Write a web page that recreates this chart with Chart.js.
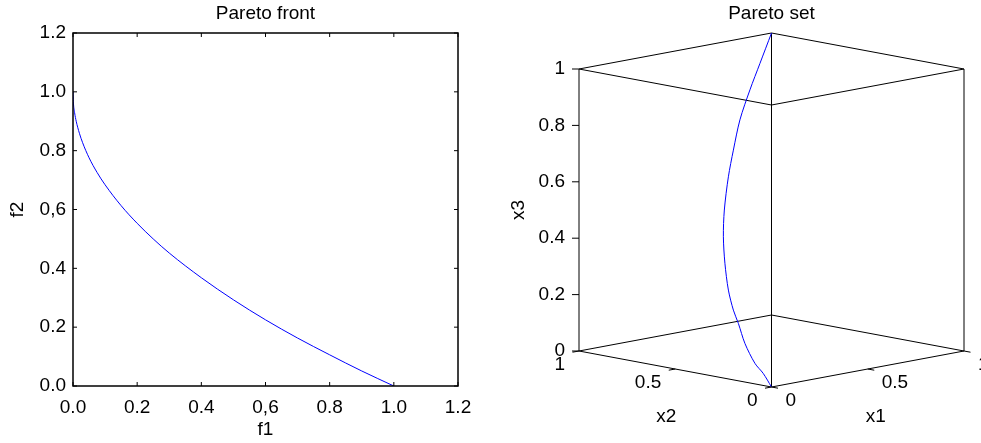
<!DOCTYPE html>
<html>
<head>
<meta charset="utf-8">
<script src="https://cdn.jsdelivr.net/npm/chart.js@4.4.1/dist/chart.umd.min.js"></script>
<style>
  html, body { margin: 0; padding: 0; background: #fff; }
  #wrap { position: relative; width: 981px; height: 443px; overflow: hidden; }
  canvas { position: absolute; top: 0; }
  #front { left: 0; }
  #set { left: 490px; }
</style>
</head>
<body>
<div id="wrap">
  <canvas id="front" width="490" height="443"></canvas>
  <canvas id="set" width="491" height="443"></canvas>
</div>
<script>
// ---- Pareto front (left panel) ----
const f1 = [0, 0.001, 0.005, 0.01, 0.02, 0.03, 0.05, 0.075, 0.1, 0.15, 0.2, 0.25, 0.3, 0.4, 0.5, 0.6, 0.7, 0.8, 0.9, 1.0];
const f2 = [1.0, 0.968, 0.929, 0.9, 0.859, 0.827, 0.776, 0.726, 0.684, 0.613, 0.553, 0.5, 0.452, 0.368, 0.293, 0.225, 0.163, 0.106, 0.051, 0.0];
const frontTicks = [0, 0.2, 0.4, 0.6, 0.8, 1.0, 1.2];
const frontTickLabels = ['0.0', '0.2', '0.4', '0,6', '0.8', '1.0', '1.2'];

// ---- Pareto set (right panel) ----
const x1 = [1.0, 0.908, 0.828, 0.738, 0.649, 0.571, 0.475, 0.399, 0.325, 0.251, 0.197, 0.162, 0.109, 0.058, 0.034, 0];
const x2 = [1.0, 0.968, 0.94, 0.902, 0.847, 0.795, 0.72, 0.649, 0.567, 0.475, 0.395, 0.334, 0.247, 0.144, 0.077, 0];
const x3 = [1.0, 0.908, 0.828, 0.738, 0.649, 0.571, 0.475, 0.399, 0.325, 0.251, 0.197, 0.162, 0.109, 0.058, 0.034, 0];
const setTicks = [0, 0.5, 1];
const setTickLabels = ['0', '0.5', '1'];
const x3Ticks = [0, 0.2, 0.4, 0.6, 0.8, 1];
const x3TickLabels = ['0', '0.2', '0.4', '0.6', '0.8', '1'];

// unit cube corners joined by the 12 edges
const cubeEdges = [
  [[0, 0, 0], [1, 0, 0]], [[0, 0, 0], [0, 1, 0]], [[1, 0, 0], [1, 1, 0]], [[0, 1, 0], [1, 1, 0]],
  [[0, 0, 1], [1, 0, 1]], [[0, 0, 1], [0, 1, 1]], [[1, 0, 1], [1, 1, 1]], [[0, 1, 1], [1, 1, 1]],
  [[0, 0, 0], [0, 0, 1]], [[1, 0, 0], [1, 0, 1]], [[0, 1, 0], [0, 1, 1]], [[1, 1, 0], [1, 1, 1]]
];

const FONT_FAMILY = "'Liberation Sans', Arial, sans-serif";
const FONT = { family: FONT_FAMILY, size: 19 };

// view from az=45, low elevation: depth lifts points a little
const DEPTH = 36 / 282;
const project = (a, b, c) => ({ x: a - b, y: c + DEPTH * (a + b) });

// frame + inward ticks on all four sides
const framePlugin = {
  id: 'frame',
  afterDatasetsDraw(chart) {
    const { ctx, chartArea: a, scales: { x, y } } = chart;
    ctx.save();
    ctx.strokeStyle = '#000';
    ctx.lineWidth = 1.5;
    ctx.strokeRect(a.left, a.top, a.width, a.height);
    ctx.lineWidth = 1;
    ctx.beginPath();
    frontTicks.forEach(v => {
      const px = x.getPixelForValue(v), py = y.getPixelForValue(v);
      ctx.moveTo(px, a.bottom); ctx.lineTo(px, a.bottom - 4);
      ctx.moveTo(px, a.top); ctx.lineTo(px, a.top + 4);
      ctx.moveTo(a.left, py); ctx.lineTo(a.left + 4, py);
      ctx.moveTo(a.right, py); ctx.lineTo(a.right - 4, py);
    });
    ctx.stroke();
    ctx.restore();
  }
};

new Chart(document.getElementById('front'), {
  type: 'scatter',
  data: {
    datasets: [{
      data: f1.map((v, i) => ({ x: v, y: f2[i] })),
      showLine: true,
      borderColor: '#0000ff',
      borderWidth: 1,
      pointRadius: 0,
      cubicInterpolationMode: 'monotone'
    }]
  },
  options: {
    responsive: false,
    animation: false,
    devicePixelRatio: 1,
    layout: { padding: { left: 0, right: 32, top: 0, bottom: 0 } },
    plugins: {
      legend: { display: false },
      tooltip: { enabled: false },
      title: { display: true, fullSize: false, text: 'Pareto front', color: '#000', font: { ...FONT, weight: 'normal' }, padding: { top: 2, bottom: 8.2 } }
    },
    scales: {
      x: {
        type: 'linear', min: 0, max: 1.2,
        afterBuildTicks: s => { s.ticks = frontTicks.map(v => ({ value: v })); },
        ticks: { callback: (v, i) => frontTickLabels[i], autoSkip: false, maxRotation: 0, padding: 10, color: '#000', font: FONT },
        grid: { display: false, drawTicks: false },
        border: { display: false },
        title: { display: true, text: 'f1', color: '#000', font: FONT, padding: { top: 0, bottom: 1.5 } },
        afterFit: s => { s.height = 57; s.paddingLeft = 0; s.paddingRight = 0; }
      },
      y: {
        type: 'linear', min: 0, max: 1.2,
        afterBuildTicks: s => { s.ticks = frontTicks.map(v => ({ value: v })); },
        ticks: { callback: (v, i) => frontTickLabels[i], autoSkip: false, padding: 7, color: '#000', font: FONT },
        grid: { display: false, drawTicks: false },
        border: { display: false },
        title: { display: true, text: 'f2', color: '#000', font: FONT, padding: { top: 6.5, bottom: 0 } },
        afterFit: s => { s.width = 73; s.paddingTop = 0; s.paddingBottom = 0; }
      }
    }
  },
  plugins: [framePlugin]
});

// ticks and labels along the cube's axes
const boxAxesPlugin = {
  id: 'boxAxes',
  afterDatasetsDraw(chart) {
    const { ctx, scales: { x, y } } = chart;
    const pix = (a, b, c) => {
      const p = project(a, b, c);
      return [x.getPixelForValue(p.x), y.getPixelForValue(p.y)];
    };
    ctx.save();
    ctx.strokeStyle = '#000';
    ctx.fillStyle = '#000';
    ctx.lineWidth = 1;
    ctx.font = FONT.size + 'px ' + FONT_FAMILY;

    ctx.beginPath();
    x3Ticks.forEach(v => {
      const [sx, sy] = pix(0, 1, v);
      ctx.moveTo(sx, sy); ctx.lineTo(sx - 7, sy);
    });
    setTicks.forEach(v => {
      let [sx, sy] = pix(0, v, 0);
      ctx.moveTo(sx, sy); ctx.lineTo(sx - 6.5, sy + 1.2);
      [sx, sy] = pix(v, 0, 0);
      ctx.moveTo(sx, sy); ctx.lineTo(sx + 6.5, sy + 1.2);
    });
    ctx.stroke();

    ctx.textBaseline = 'middle';
    ctx.textAlign = 'right';
    x3Ticks.forEach((v, i) => {
      const [sx, sy] = pix(0, 1, v);
      ctx.fillText(x3TickLabels[i], sx - 14, sy);
    });
    setTicks.forEach((v, i) => {
      const [sx, sy] = pix(0, v, 0);
      ctx.fillText(setTickLabels[i], sx - 14, sy + 14);
    });
    ctx.textAlign = 'left';
    setTicks.forEach((v, i) => {
      const [sx, sy] = pix(v, 0, 0);
      ctx.fillText(setTickLabels[i], sx + 14, sy + 14);
    });

    // axis titles
    ctx.textAlign = 'center';
    let [sx, sy] = pix(0, 0.5, 0);
    ctx.fillText('x2', sx - 9, sy + 48);
    [sx, sy] = pix(0.5, 0, 0);
    ctx.fillText('x1', sx + 8, sy + 48);
    [sx, sy] = pix(0, 1, 0.5);
    ctx.translate(sx - 60, sy);
    ctx.rotate(-Math.PI / 2);
    ctx.fillText('x3', 0, 0);
    ctx.restore();
  }
};

const edgeSets = cubeEdges.map(edge => ({
  data: edge.map(p => project(p[0], p[1], p[2])),
  showLine: true,
  borderColor: '#000',
  borderWidth: 1,
  pointRadius: 0,
  clip: false
}));

new Chart(document.getElementById('set'), {
  type: 'scatter',
  data: {
    datasets: [{
      data: x1.map((v, i) => project(v, x2[i], x3[i])),
      showLine: true,
      borderColor: '#0000ff',
      borderWidth: 1,
      pointRadius: 0,
      tension: 0.3,
      clip: false
    }, ...edgeSets]
  },
  options: {
    responsive: false,
    animation: false,
    devicePixelRatio: 1,
    layout: { padding: { left: 89, right: 17, top: 0, bottom: 56 } },
    plugins: {
      legend: { display: false },
      tooltip: { enabled: false },
      title: { display: true, fullSize: false, text: 'Pareto set', color: '#000', font: { ...FONT, weight: 'normal' }, padding: { top: 2, bottom: 8.2 } }
    },
    scales: {
      x: { type: 'linear', display: false, min: -1, max: 1 },
      y: { type: 'linear', display: false, min: 0, max: 1 + 2 * DEPTH }
    }
  },
  plugins: [boxAxesPlugin]
});
</script>
</body>
</html>
